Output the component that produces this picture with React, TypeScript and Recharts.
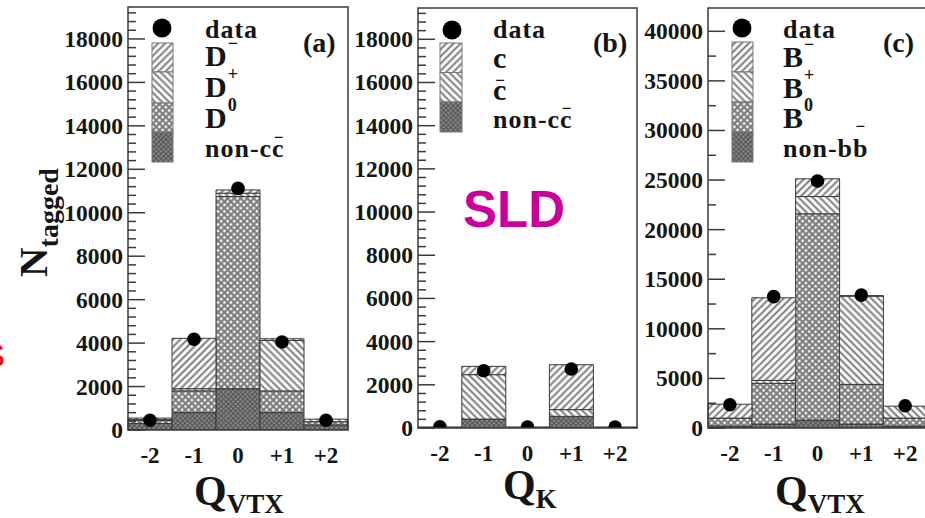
import React from 'react'
import { ComposedChart, Bar, Line, XAxis, YAxis, Legend } from 'recharts'

const SERIF = "'Liberation Serif', 'Times New Roman', serif"
const SANS = "'Liberation Sans', Arial, sans-serif"
const INK = '#151515'

const Q_BINS = ['-2', '-1', '0', '+1', '+2']

// (a) D mesons vs vertex charge
const A_NONCC = [300, 800, 1900, 800, 230]
const A_D0 = [150, 1000, 8850, 1000, 150]
const A_DPLUS = [30, 100, 150, 2320, 120]
const A_DMINUS = [70, 2320, 150, 80, 0]
const A_DATA = [450, 4180, 11120, 4050, 450]

// (b) charm vs kaon charge
const B_NONCC = [20, 415, 20, 540, 20]
const B_CBAR = [10, 2055, 10, 310, 10]
const B_C = [10, 385, 10, 2080, 10]
const B_DATA = [60, 2650, 40, 2730, 40]

// (c) B mesons vs vertex charge
const C_NONBB = [200, 400, 800, 400, 200]
const C_B0 = [800, 4100, 20800, 4000, 800]
const C_BPLUS = [0, 300, 1740, 8900, 1200]
const C_BMINUS = [1400, 8330, 1790, 50, 0]
const C_DATA = [2350, 13250, 24900, 13400, 2250]

const AB_MAJOR = [0, 2000, 4000, 6000, 8000, 10000, 12000, 14000, 16000, 18000]
const C_MAJOR = [0, 5000, 10000, 15000, 20000, 25000, 30000, 35000, 40000]

type Lab = { text: string; sup?: string; bar?: boolean; tall?: boolean; size?: number }

const A_LEGEND: Lab[] = [
  { text: 'data', size: 26 },
  { text: 'D', sup: '−' },
  { text: 'D', sup: '+' },
  { text: 'D', sup: '0' },
  { text: 'non-cc', bar: true, size: 26 },
]
const B_LEGEND: Lab[] = [
  { text: 'data', size: 26 },
  { text: 'c' },
  { text: 'c', bar: true },
  { text: 'non-cc', bar: true, size: 26 },
]
const C_LEGEND: Lab[] = [
  { text: 'data', size: 26 },
  { text: 'B', sup: '−' },
  { text: 'B', sup: '+' },
  { text: 'B', sup: '0' },
  { text: 'non-bb', bar: true, tall: true, size: 26 },
]

const withMinor = (step: number, max: number) => {
  const out: number[] = []
  for (let v = 0; v <= max; v += step) out.push(v)
  return out
}

function Patterns() {
  return (
    <svg width={0} height={0} style={{ position: 'absolute' }}>
      <defs>
        <pattern id="hatchF" width={5} height={5} patternUnits="userSpaceOnUse" patternTransform="rotate(45)">
          <rect width={5} height={5} fill="#fff" />
          <line x1={2.5} y1={0} x2={2.5} y2={5} stroke="#6e6e6e" strokeWidth={1.8} />
        </pattern>
        <pattern id="hatchB" width={5} height={5} patternUnits="userSpaceOnUse" patternTransform="rotate(-45)">
          <rect width={5} height={5} fill="#fff" />
          <line x1={2.5} y1={0} x2={2.5} y2={5} stroke="#6e6e6e" strokeWidth={1.8} />
        </pattern>
        <pattern id="cross" width={4.6} height={4.6} patternUnits="userSpaceOnUse" patternTransform="rotate(45)">
          <rect width={4.6} height={4.6} fill="#f6f6f6" />
          <line x1={0} y1={2.3} x2={4.6} y2={2.3} stroke="#777" strokeWidth={2} />
          <line x1={2.3} y1={0} x2={2.3} y2={4.6} stroke="#777" strokeWidth={2} />
        </pattern>
        <pattern id="dark" width={3.4} height={3.4} patternUnits="userSpaceOnUse" patternTransform="rotate(45)">
          <rect width={3.4} height={3.4} fill="#8c8c8c" />
          <line x1={0} y1={1.7} x2={3.4} y2={1.7} stroke="#585858" strokeWidth={1.3} />
          <line x1={1.7} y1={0} x2={1.7} y2={3.4} stroke="#585858" strokeWidth={1.3} />
        </pattern>
      </defs>
    </svg>
  )
}

const numStyle = { fontFamily: SERIF, fontWeight: 700, fontSize: 23.5, fill: INK }

const yTick = (left: number, majors: number[]) => (props: any) => {
  const { y, payload } = props
  const major = majors.includes(payload.value)
  return (
    <g>
      <line x1={left} x2={left + (major ? 17 : 8)} y1={y} y2={y} stroke="#3a3a3a" strokeWidth={1.5} />
      {major && (
        <text x={left - 5} y={y + 8} textAnchor="end" style={numStyle}>
          {String(payload.value)}
        </text>
      )}
    </g>
  )
}

const xTick = (baseline: number) => (props: any) => (
  <text x={props.x} y={baseline} textAnchor="middle" style={{ ...numStyle, fontSize: 23 }}>
    {props.payload.value}
  </text>
)

function renderLabel(lab: Lab, x: number, y: number, key: number) {
  const size = lab.size ?? 30
  return (
    <text key={key} x={x} y={y} fontFamily={SERIF} fontWeight={700} fontSize={size} fill={INK} letterSpacing={lab.size ? 1 : 0}>
      {lab.text}
      {lab.sup && (
        <tspan dx={1} dy={-17} fontSize={18}>
          {lab.sup}
        </tspan>
      )}
      {lab.bar && (
        <tspan dx={lab.tall ? -13 : -11} dy={lab.tall ? -25 : -14} fontSize={17}>
          −
        </tspan>
      )}
    </text>
  )
}

type LegendCfg = {
  dotX: number
  dotY: number
  boxX: number
  boxW: number
  boxTops: number[]
  fills: string[]
  textX: number
  baselines: number[]
  labels: Lab[]
  tag: string
  tagX: number
}

const legendContent = (cfg: LegendCfg, width: number) => () => (
  <svg width={width} height={180}>
    <circle cx={cfg.dotX} cy={cfg.dotY} r={9.5} fill="#000" />
    {cfg.fills.map((f, i) => (
      <rect
        key={f}
        x={cfg.boxX}
        y={cfg.boxTops[i]}
        width={cfg.boxW}
        height={cfg.boxTops[i + 1] - cfg.boxTops[i]}
        fill={`url(#${f})`}
        stroke="#777"
        strokeWidth={1}
      />
    ))}
    {cfg.labels.map((lab, i) => renderLabel(lab, cfg.textX, cfg.baselines[i], i))}
    <text x={cfg.tagX} y={52} fontFamily={SERIF} fontWeight={700} fontSize={28} fill={INK}>
      {cfg.tag}
    </text>
  </svg>
)

type Layer = { key: string; fill: string }

type PanelCfg = {
  left: number
  width: number
  top: number
  right: number
  xHeight: number
  yWidth: number
  max: number
  majors: number[]
  minorStep: number
  rows: Array<Record<string, unknown>>
  layers: Layer[]
  legend: LegendCfg
}

function Panel({ cfg }: { cfg: PanelCfg }) {
  const plotBottom = 518 - cfg.xHeight
  return (
    <div style={{ position: 'absolute', left: cfg.left, top: 0 }}>
      <ComposedChart
        width={cfg.width}
        height={518}
        data={cfg.rows}
        margin={{ top: cfg.top, right: cfg.right, bottom: 0, left: 0 }}
        barCategoryGap={0}
        barGap={0}
      >
        <XAxis dataKey="q" height={cfg.xHeight} axisLine={false} tickLine={false} interval={0} tick={xTick(plotBottom + 33)} />
        <YAxis
          type="number"
          width={cfg.yWidth}
          domain={[0, cfg.max]}
          allowDataOverflow
          ticks={withMinor(cfg.minorStep, cfg.max)}
          interval={0}
          axisLine={false}
          tickLine={false}
          tick={yTick(cfg.yWidth, cfg.majors)}
        />
        {cfg.layers.map((l) => (
          <Bar key={l.key} dataKey={l.key} stackId="mc" fill={l.fill} stroke="#3a3a3a" strokeWidth={1} isAnimationActive={false} />
        ))}
        <Line
          dataKey="data"
          stroke="none"
          dot={{ r: 6.8, fill: '#000', stroke: '#000', strokeWidth: 0 }}
          activeDot={false}
          isAnimationActive={false}
        />
        <Legend
          layout="vertical"
          align="center"
          verticalAlign="middle"
          content={legendContent(cfg.legend, cfg.width)}
          wrapperStyle={{ left: 0, top: 0, width: cfg.width, height: 180 }}
        />
      </ComposedChart>
    </div>
  )
}

const aRows = Q_BINS.map((q, i) => ({ q, nonCC: A_NONCC[i], d0: A_D0[i], dPlus: A_DPLUS[i], dMinus: A_DMINUS[i], data: A_DATA[i] }))
const bRows = Q_BINS.map((q, i) => ({ q, nonCC: B_NONCC[i], cBar: B_CBAR[i], c: B_C[i], data: B_DATA[i] }))
const cRows = Q_BINS.map((q, i) => ({ q, nonBB: C_NONBB[i], b0: C_B0[i], bPlus: C_BPLUS[i], bMinus: C_BMINUS[i], data: C_DATA[i] }))

const PANEL_A: PanelCfg = {
  left: 0,
  width: 360,
  top: 7,
  right: 12,
  xHeight: 88,
  yWidth: 128,
  max: 19470,
  majors: AB_MAJOR,
  minorStep: 400,
  rows: aRows,
  layers: [
    { key: 'nonCC', fill: 'url(#dark)' },
    { key: 'd0', fill: 'url(#cross)' },
    { key: 'dPlus', fill: 'url(#hatchB)' },
    { key: 'dMinus', fill: 'url(#hatchF)' },
  ],
  legend: {
    dotX: 162,
    dotY: 28,
    boxX: 152,
    boxW: 21,
    boxTops: [43, 72, 103, 132, 162],
    fills: ['hatchF', 'hatchB', 'cross', 'dark'],
    textX: 205,
    baselines: [38, 66, 97, 128, 157],
    labels: A_LEGEND,
    tag: '(a)',
    tagX: 303,
  },
}

const PANEL_B: PanelCfg = {
  left: 345,
  width: 305,
  top: 8,
  right: 13,
  xHeight: 90,
  yWidth: 73,
  max: 19450,
  majors: AB_MAJOR,
  minorStep: 400,
  rows: bRows,
  layers: [
    { key: 'nonCC', fill: 'url(#dark)' },
    { key: 'cBar', fill: 'url(#hatchB)' },
    { key: 'c', fill: 'url(#hatchF)' },
  ],
  legend: {
    dotX: 107,
    dotY: 30,
    boxX: 95,
    boxW: 22,
    boxTops: [43, 72.5, 102, 132],
    fills: ['hatchF', 'hatchB', 'dark'],
    textX: 148,
    baselines: [38, 68, 100, 128],
    labels: B_LEGEND,
    tag: '(b)',
    tagX: 248,
  },
}

const PANEL_C: PanelCfg = {
  left: 640,
  width: 290,
  top: 8,
  right: 3,
  xHeight: 90,
  yWidth: 68,
  max: 42350,
  majors: C_MAJOR,
  minorStep: 2500,
  rows: cRows,
  layers: [
    { key: 'nonBB', fill: 'url(#dark)' },
    { key: 'b0', fill: 'url(#cross)' },
    { key: 'bPlus', fill: 'url(#hatchB)' },
    { key: 'bMinus', fill: 'url(#hatchF)' },
  ],
  legend: {
    dotX: 102,
    dotY: 28,
    boxX: 92,
    boxW: 21,
    boxTops: [42, 72, 102, 132, 162],
    fills: ['hatchF', 'hatchB', 'cross', 'dark'],
    textX: 143,
    baselines: [38, 67, 98, 128, 157],
    labels: C_LEGEND,
    tag: '(c)',
    tagX: 243,
  },
}

const titleStyle = { fontFamily: SERIF, fontWeight: 700, fill: INK }

export default function App() {
  return (
    <div style={{ position: 'absolute', left: 0, top: 0, width: 925, height: 518, overflow: 'hidden', background: '#fff' }}>
      <Patterns />
      <Panel cfg={PANEL_A} />
      <Panel cfg={PANEL_B} />
      <Panel cfg={PANEL_C} />
      <svg width={925} height={518} style={{ position: 'absolute', left: 0, top: 0, pointerEvents: 'none' }}>
        <rect x={128} y={7} width={220} height={423} fill="none" stroke="#3a3a3a" strokeWidth={1.5} />
        <rect x={418} y={8} width={219} height={420} fill="none" stroke="#3a3a3a" strokeWidth={1.5} />
        <rect x={708} y={8} width={219} height={420} fill="none" stroke="#3a3a3a" strokeWidth={1.5} />
        <text transform="translate(47,277) rotate(-90)" style={{ ...titleStyle, fontSize: 41 }}>
          N
          <tspan dy={11} fontSize={28}>
            tagged
          </tspan>
        </text>
        <text x={194} y={505} style={{ ...titleStyle, fontSize: 42 }}>
          Q
          <tspan dy={8} fontSize={27}>
            VTX
          </tspan>
        </text>
        <text x={503} y={499} style={{ ...titleStyle, fontSize: 42 }}>
          Q
          <tspan dy={9} fontSize={27}>
            K
          </tspan>
        </text>
        <text x={775} y={505} style={{ ...titleStyle, fontSize: 42 }}>
          Q
          <tspan dy={8} fontSize={27}>
            VTX
          </tspan>
        </text>
        <text x={463} y={227} fontFamily={SANS} fontWeight={700} fontSize={51} fill="#cc0099">
          SLD
        </text>
        <text x={-17} y={367} fontFamily={SANS} fontSize={33} fill="#ff0000">
          S
        </text>
      </svg>
    </div>
  )
}
